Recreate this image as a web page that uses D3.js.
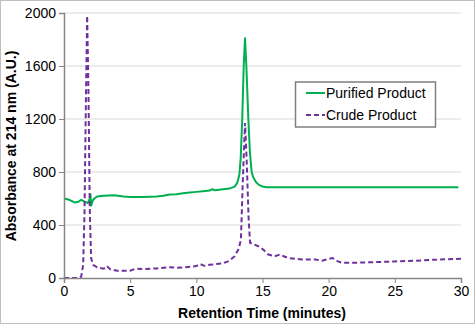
<!DOCTYPE html>
<html><head><meta charset="utf-8">
<script src="https://cdn.jsdelivr.net/npm/d3@7"></script>
<style>body{margin:0;background:#fff}svg{display:block;font-family:"Liberation Sans",Arial,sans-serif}</style>
</head><body><div id="c"></div>
<script>
const yTicks = [0, 400, 800, 1200, 1600, 2000];
const xTicks = [0, 5, 10, 15, 20, 25, 30];
const seriesNames = ["Purified Product", "Crude Product"];
const purifiedX = [0,0.4,0.8,1.1,1.3,1.6,1.8,1.95,2.0,2.05,2.1,2.2,2.3,2.5,3,3.8,4.5,5,6,7,7.5,8,8.5,9,9.5,10,10.5,11,11.2,11.4,11.6,12,12.5,12.9,13.1,13.25,13.35,13.47,13.58,13.68,13.78,13.93,14.05,14.18,14.3,14.5,14.7,15.0,15.3,20,25,29.8];
const purifiedY = [600,590,570,575,590,575,565,600,630,545,560,590,600,615,620,625,615,612,612,615,620,630,632,640,645,650,655,660,670,662,665,670,675,690,720,780,900,1200,1600,1810,1600,1200,950,800,760,725,705,690,685,685,685,685];
const crudeX = [0,0.5,1.0,1.3,1.45,1.55,1.65,1.75,1.85,1.95,2.05,2.2,2.5,3.0,3.25,3.5,4,5,5.4,6,7,8,8.5,9,10,10.3,10.6,11,12,12.5,12.9,13.2,13.37,13.5,13.68,13.8,13.95,14.06,14.3,14.68,15.05,15.44,15.94,16.3,16.6,17.0,17.5,18,19,19.5,20,20.3,20.7,21,22,23,25,27,28,30];
const crudeY = [0,0,0,10,100,500,1300,1980,1400,500,150,100,80,70,90,65,55,55,70,68,72,82,78,80,90,105,92,100,110,130,165,220,290,700,1170,900,450,266,255,240,215,177,164,177,164,150,145,140,140,130,145,150,125,115,115,118,125,132,138,145];

const W = 475, H = 324;
const m = {l: 64, r: 14, t: 13, b: 46};
const svg = d3.select("#c").append("svg").attr("width", W).attr("height", H);
svg.append("rect").attr("x", 0.5).attr("y", 0.5).attr("width", W - 1).attr("height", H - 1)
  .attr("fill", "#fff").attr("stroke", "#bfbfbf");

const x = d3.scaleLinear().domain([0, 30]).range([m.l, W - m.r]);
const y = d3.scaleLinear().domain([0, 2000]).range([H - m.b, m.t]);

// gridlines
svg.append("g").selectAll("line").data(yTicks.filter(d => d > 0)).join("line")
  .attr("x1", m.l).attr("x2", W - m.r).attr("y1", d => y(d)).attr("y2", d => y(d))
  .attr("stroke", "#d9d9d9").attr("stroke-width", 1);

const line = d3.line().x(d => x(d[0])).y(d => y(d[1]));
const pData = purifiedX.map((v, i) => [v, purifiedY[i]]);
const cData = crudeX.map((v, i) => [v, crudeY[i]]);

svg.append("path").datum(pData).attr("d", line).attr("fill", "none")
  .attr("stroke", "#00b050").attr("stroke-width", 2).attr("stroke-linejoin", "round");
svg.append("path").datum(cData).attr("d", line).attr("fill", "none")
  .attr("stroke", "#7030a0").attr("stroke-width", 2).attr("stroke-dasharray", "5,3");

// axes
const xa = svg.append("g").attr("transform", `translate(0,${H - m.b})`)
  .call(d3.axisBottom(x).tickValues(xTicks).tickFormat(d3.format("d")).tickSize(5).tickPadding(3));
const ya = svg.append("g").attr("transform", `translate(${m.l},0)`)
  .call(d3.axisLeft(y).tickValues(yTicks).tickFormat(d3.format("d")).tickSize(5).tickPadding(3));
[xa, ya].forEach(a => {
  a.selectAll("path").attr("stroke", "#868686").attr("stroke-width", 1.5);
  a.selectAll("line").attr("stroke", "#868686");
  a.selectAll("text").attr("font-size", 14).attr("fill", "#000")
    .attr("font-family", "Liberation Sans, Arial, sans-serif");
});

svg.append("text").attr("x", 262).attr("y", 318).attr("text-anchor", "middle")
  .attr("font-size", 14).attr("font-weight", "bold").text("Retention Time (minutes)");
svg.append("text").attr("transform", `translate(16,${146}) rotate(-90)`)
  .attr("text-anchor", "middle").attr("font-size", 14).attr("font-weight", "bold")
  .text("Absorbance at 214 nm (A.U.)");

// legend
const lg = svg.append("g");
lg.append("rect").attr("x", 295.5).attr("y", 82).attr("width", 140).attr("height", 45)
  .attr("fill", "#fff").attr("stroke", "#7f7f7f").attr("stroke-width", 1.5);
const colors = ["#00b050", "#7030a0"];
const dashes = [null, "5,3"];
seriesNames.forEach((n, i) => {
  const yy = 93 + i * 22;
  lg.append("line").attr("x1", 306).attr("x2", 325).attr("y1", yy).attr("y2", yy)
    .attr("stroke", colors[i]).attr("stroke-width", 2).attr("stroke-dasharray", dashes[i]);
  lg.append("text").attr("x", 326).attr("y", yy + 5).attr("font-size", 14).text(n);
});
</script></body></html>
